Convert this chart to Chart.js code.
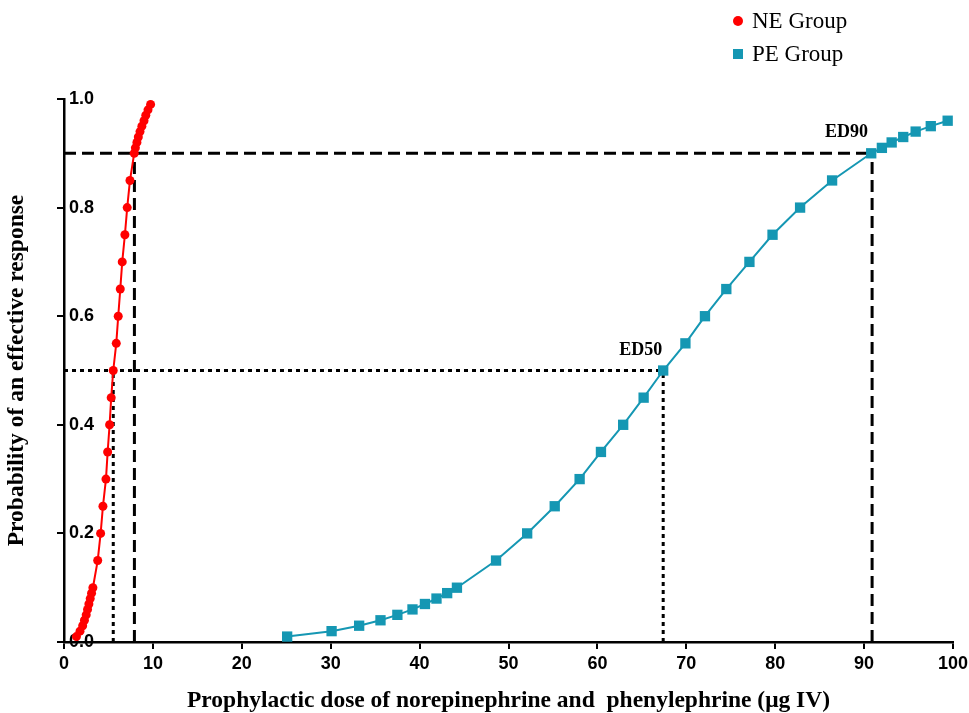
<!DOCTYPE html>
<html><head><meta charset="utf-8">
<script src="https://cdn.jsdelivr.net/npm/chart.js@4.4.0/dist/chart.umd.min.js"></script>
<style>html,body{margin:0;padding:0;background:#fff;}#wrap{width:969px;height:713px;position:relative;}</style>
</head><body><div id="wrap"><canvas id="c"></canvas></div>
<script>
// ---- data ----
const neProb = [0.01,0.02,0.03,0.04,0.05,0.06,0.07,0.08,0.09,0.10,
  0.15,0.20,0.25,0.30,0.35,0.40,0.45,0.50,0.55,0.60,0.65,0.70,0.75,0.80,0.85,
  0.90,0.91,0.92,0.93,0.94,0.95,0.96,0.97,0.98,0.99];
const neDose = [1.40,1.80,2.10,2.30,2.50,2.65,2.80,2.95,3.10,3.25,
  3.79,4.12,4.38,4.72,4.91,5.13,5.31,5.54,5.88,6.10,6.33,6.55,6.85,7.11,7.42,
  7.90,8.03,8.20,8.36,8.55,8.76,9.00,9.20,9.45,9.74];
const peProb = [0.01,0.02,0.03,0.04,0.05,0.06,0.07,0.08,0.09,0.10,
  0.15,0.20,0.25,0.30,0.35,0.40,0.45,0.50,0.55,0.60,0.65,0.70,0.75,0.80,0.85,
  0.90,0.91,0.92,0.93,0.94,0.95,0.96];
const peDose = [25.1,30.1,33.2,35.6,37.5,39.2,40.6,41.9,43.1,44.2,
  48.6,52.1,55.2,58.0,60.4,62.9,65.2,67.4,69.9,72.1,74.5,77.1,79.7,82.8,86.4,
  90.8,92.0,93.1,94.4,95.8,97.5,99.4];
const edLevels = [0.5, 0.9];          // ED50, ED90 probabilities
const neED = [5.54, 7.92];            // NE ED50, ED90
const peED = [67.4, 90.9];            // PE ED50, ED90
const edLabels = ['ED50', 'ED90'];
const seriesNames = ['NE Group', 'PE Group'];
const xMin = 0, xMax = 100, xStep = 10;
const yMin = 0, yMax = 1, yStep = 0.2;

const RED = '#ff0000', TEAL = '#1597b3';
const toPts = (xs, ys) => xs.map((x, i) => ({x, y: ys[i]}));

function refLine(pts, dash) {
  return {data: pts, borderColor: '#000', borderWidth: 3, borderDash: dash,
    pointRadius: 0, pointHoverRadius: 0, fill: false, order: 10, tension: 0};
}
const DASH = [12, 6], DOT = [4, 4];
const datasets = [
  {label: seriesNames[0], data: toPts(neDose, neProb), borderColor: RED, backgroundColor: RED,
   borderWidth: 2, pointStyle: 'circle', pointRadius: 4.5, pointBorderWidth: 0, order: 0},
  {label: seriesNames[1], data: toPts(peDose, peProb), borderColor: TEAL, backgroundColor: TEAL,
   borderWidth: 2, pointStyle: 'rect', pointRadius: 7.3, pointBorderWidth: 0, order: 1},
  // ED90 lines (dashed)
  refLine([{x: xMin, y: edLevels[1]}, {x: peED[1], y: edLevels[1]}], DASH),
  refLine([{x: neED[1], y: yMin}, {x: neED[1], y: edLevels[1]}], DASH),
  refLine([{x: peED[1], y: yMin}, {x: peED[1], y: edLevels[1]}], DASH),
  // ED50 lines (dotted)
  refLine([{x: xMin, y: edLevels[0]}, {x: peED[0], y: edLevels[0]}], DOT),
  refLine([{x: neED[0], y: yMin}, {x: neED[0], y: edLevels[0]}], DOT),
  refLine([{x: peED[0], y: yMin}, {x: peED[0], y: edLevels[0]}], DOT),
];

const tickFont = {family: "'Liberation Sans Narrow','Liberation Sans',Arial,sans-serif", weight: 'bold', size: 18};
const titleFont = {family: "'Liberation Serif','Times New Roman',serif", weight: 'bold', size: 23.5, lineHeight: 1.0};

const overlay = {
  id: 'overlay',
  afterDatasetsDraw(chart) {
    const {ctx, scales: {x, y}} = chart;
    ctx.save();
    ctx.fillStyle = '#000';
    ctx.font = "bold 18px 'Liberation Serif','Times New Roman',serif";
    ctx.textBaseline = 'alphabetic';
    ctx.textAlign = 'right';
    // ED labels placed just above-left of the PE ED points
    ctx.fillText(edLabels[0], x.getPixelForValue(peED[0]) - 1, y.getPixelForValue(edLevels[0]) - 16);
    ctx.fillText(edLabels[1], x.getPixelForValue(peED[1]) - 4, y.getPixelForValue(edLevels[1]) - 16);
    // legend
    ctx.textAlign = 'left';
    ctx.textBaseline = 'middle';
    ctx.font = "23px 'Liberation Serif','Times New Roman',serif";
    const lx = 738, ly1 = 21, ly2 = 54;
    ctx.fillStyle = RED;
    ctx.beginPath(); ctx.arc(lx, ly1, 5, 0, Math.PI * 2); ctx.fill();
    ctx.fillStyle = TEAL;
    ctx.fillRect(lx - 5, ly2 - 5, 10, 10);
    ctx.fillStyle = '#000';
    ctx.fillText(seriesNames[0], lx + 14, ly1 + 1);
    ctx.fillText(seriesNames[1], lx + 14, ly2 + 1);
    ctx.restore();
  }
};

new Chart(document.getElementById('c'), {
  type: 'line',
  data: {datasets},
  options: {
    responsive: true, maintainAspectRatio: false, animation: false,
    layout: {padding: {top: 99, right: 16, left: 0, bottom: 0}},
    plugins: {legend: {display: false}, tooltip: {enabled: false}},
    scales: {
      x: {type: 'linear', min: xMin, max: xMax,
        ticks: {stepSize: xStep, color: '#000', font: tickFont, padding: 4},
        grid: {drawOnChartArea: false, drawTicks: true, tickLength: 7, color: '#000', lineWidth: 2},
        border: {display: true, color: '#000', width: 2.5},
        title: {display: true, text: 'Prophylactic dose of norepinephrine and  phenylephrine (μg IV)',
          color: '#000', font: titleFont, padding: {top: 4, bottom: 0}},
        afterFit(s) { s.height = 71; s.paddingRight = 0; s.paddingLeft = 0; }
      },
      y: {type: 'linear', min: yMin, max: yMax,
        ticks: {stepSize: yStep, color: '#000', font: tickFont, mirror: true, padding: 5,
          callback: v => Number(v).toFixed(1)},
        grid: {drawOnChartArea: false, drawTicks: true, tickLength: 7, color: '#000', lineWidth: 2},
        border: {display: true, color: '#000', width: 2.5},
        title: {display: true, text: 'Probability of an effective response',
          color: '#000', font: {...titleFont, lineHeight: 1.2}, padding: {top: 3, bottom: 0}},
        afterFit(s) { s.width = 64; s.paddingTop = 0; s.paddingBottom = 0; }
      }
    }
  },
  plugins: [overlay]
});
</script></body></html>
